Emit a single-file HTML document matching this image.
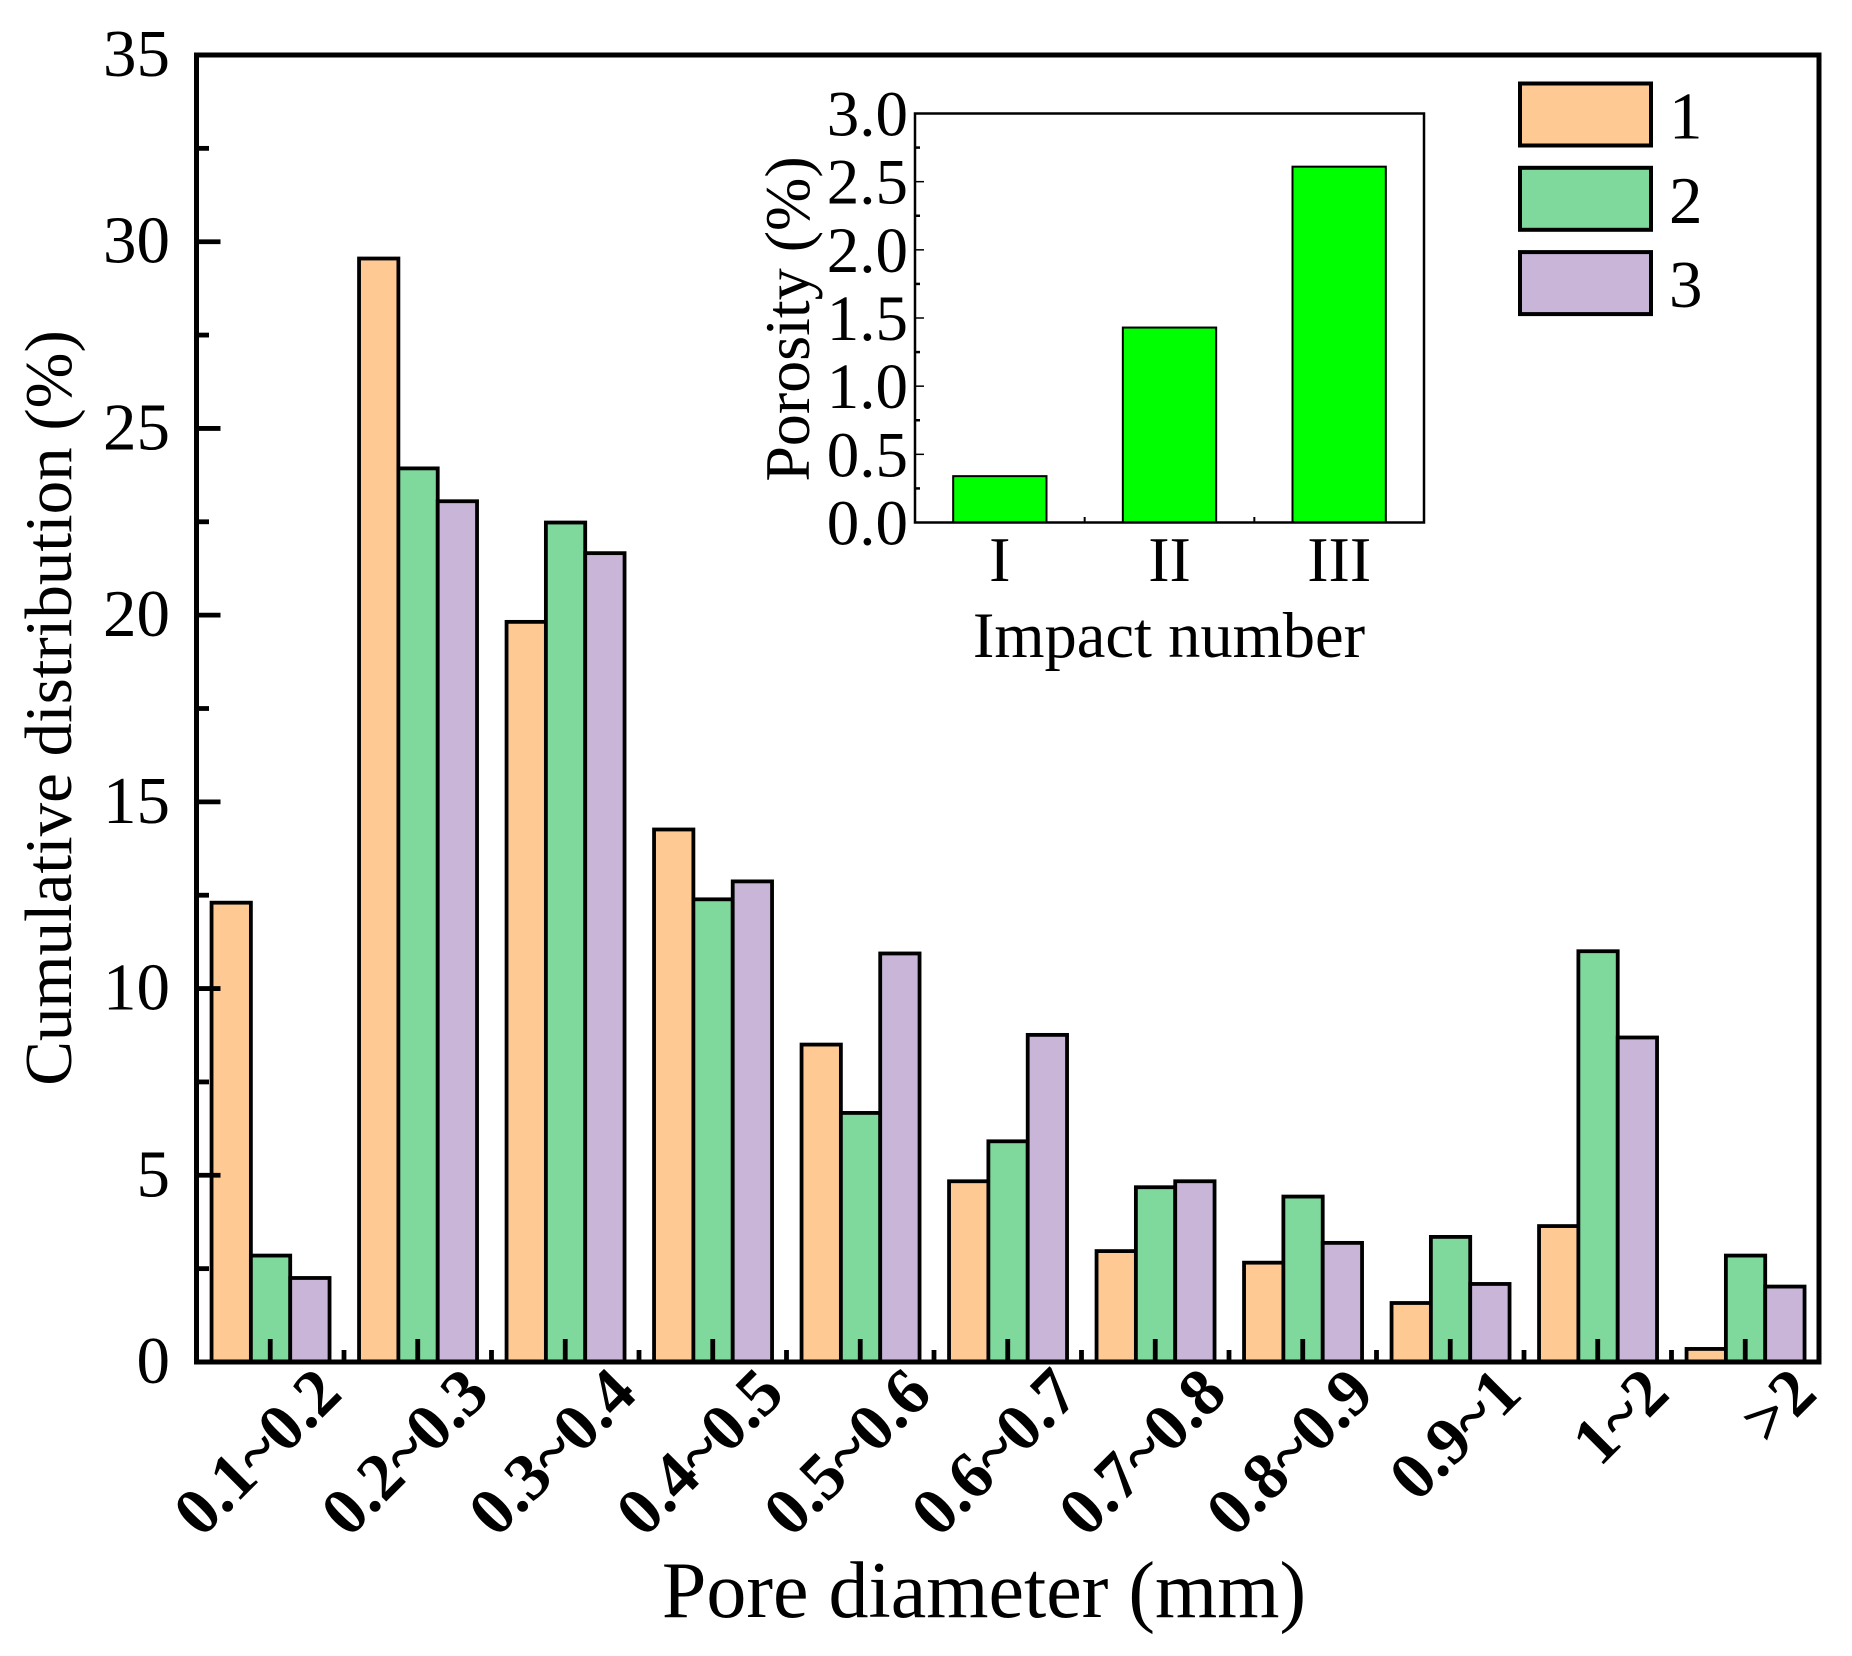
<!DOCTYPE html>
<html lang="en">
<head>
<meta charset="utf-8">
<title>Pore diameter distribution</title>
<style>
html,body{margin:0;padding:0;background:#fff;width:1852px;height:1656px;overflow:hidden}
svg{display:block}
text{font-family:"Liberation Serif","Times New Roman",serif;fill:#000}
</style>
</head>
<body>
<svg id="chart" xmlns="http://www.w3.org/2000/svg" width="1852" height="1656" viewBox="0 0 1852 1656">
  <rect x="0" y="0" width="1852" height="1656" fill="#fff"/>
  <g id="main-bars"></g>
  <rect x="196.5" y="55" width="1622.5" height="1307" fill="none" stroke="#000" stroke-width="5"/>
  <g id="main-ticks"></g>
  <text transform="translate(71,708) rotate(-90)" text-anchor="middle" font-size="67">Cumulative distribution (%)</text>
  <text x="984" y="1617" text-anchor="middle" font-size="80">Pore diameter (mm)</text>
  <g id="inset-bars"></g>
  <rect x="915" y="113.5" width="509" height="409" fill="none" stroke="#000" stroke-width="2.5"/>
  <g id="inset-ticks"></g>
  <text transform="translate(809,319) rotate(-90)" text-anchor="middle" font-size="64">Porosity (%)</text>
  <text x="1169" y="657" text-anchor="middle" font-size="64.5">Impact number</text>
  <g id="legend"></g>
</svg>
<script>
const categories = ["0.1~0.2","0.2~0.3","0.3~0.4","0.4~0.5","0.5~0.6","0.6~0.7","0.7~0.8","0.8~0.9","0.9~1","1~2",">2"];
const series1 = [12.3,29.55,19.82,14.26,8.5,4.84,2.97,2.66,1.58,3.64,0.35];
const series2 = [2.85,23.93,22.48,12.39,6.67,5.91,4.68,4.43,3.35,11.0,2.85];
const series3 = [2.25,23.05,21.66,12.87,10.94,8.76,4.84,3.19,2.09,8.69,2.02];
const seriesNames = ["1","2","3"];
const yTicks = [0,5,10,15,20,25,30,35];
const insetCategories = ["I","II","III"];
const insetValues = [0.34,1.43,2.61];
const insetYTicks = ["0.0","0.5","1.0","1.5","2.0","2.5","3.0"];

const NS = "http://www.w3.org/2000/svg";
const seriesColors = ["#FFC994","#7FD99C","#C9B5D8"];
const xMain = v => 196.5 + (v - 0.5) * (1622.5 / 11);
const yMain = v => 1362 - v * (1307 / 35);
const xInset = v => 915 + (v - 0.5) * (509 / 3);
const yInset = v => 522.5 - v * (409 / 3);

function make(parent, tag, props, content) {
  const el = document.createElementNS(NS, tag);
  for (const k in props) el.setAttribute(k, props[k]);
  if (content !== undefined) el.textContent = content;
  parent.appendChild(el);
  return el;
}

const mainBars = document.getElementById("main-bars");
const mainTicks = document.getElementById("main-ticks");
const insetBars = document.getElementById("inset-bars");
const insetTicks = document.getElementById("inset-ticks");
const legend = document.getElementById("legend");

const allSeries = [series1, series2, series3];
const barW = 0.8 / 3;
allSeries.forEach((vals, s) => {
  vals.forEach((v, i) => {
    const x0 = xMain(i + 1 - 0.4 + s * barW);
    const x1 = xMain(i + 1 - 0.4 + (s + 1) * barW);
    const r = make(mainBars, "rect", {x: x0 + 0.3, y: yMain(v), width: x1 - x0, height: yMain(0) - yMain(v), fill: seriesColors[s], stroke: "#000", "stroke-width": 3.8});
    
    
  });
});

yTicks.forEach((v, i) => {
  const t = make(mainTicks, "line", {x1: 196.5, x2: 220.5, y1: yMain(v), y2: yMain(v), stroke: "#000", "stroke-width": 4.8});
  
  
  const lab = make(mainTicks, "text", {x: 170, y: yMain(v) + 21, "text-anchor": "end", "font-size": 67}, String(v));
  
  
  if (i < yTicks.length - 1) {
    const m = (v + yTicks[i + 1]) / 2;
    const mt = make(mainTicks, "line", {x1: 196.5, x2: 209, y1: yMain(m), y2: yMain(m), stroke: "#000", "stroke-width": 4.8});
    
    
  }
});

categories.forEach((c, i) => {
  const x = xMain(i + 1);
  const t = make(mainTicks, "line", {x1: x, x2: x, y1: 1362, y2: 1339, stroke: "#000", "stroke-width": 4.8});
  
  
  if (i < categories.length - 1) {
    const xm = xMain(i + 1.5);
    const mt = make(mainTicks, "line", {x1: xm, x2: xm, y1: 1362, y2: 1350, stroke: "#000", "stroke-width": 4.8});
    
    
  }
  const lx = x + 74, ly = 1396;
  const lab = make(mainTicks, "text", {transform: "translate(" + lx + "," + ly + ") rotate(-45)", "text-anchor": "end", "font-size": 67, "font-weight": "bold"}, c);
  
  
});

insetValues.forEach((v, i) => {
  const cx = xInset(i + 1), w = 0.55 * (509 / 3);
  const r = make(insetBars, "rect", {x: cx - w / 2, y: yInset(v), width: w, height: yInset(0) - yInset(v), fill: "#00FF00", stroke: "#000", "stroke-width": 2});
  
  
  const lab = make(insetTicks, "text", {x: cx, y: 581, "text-anchor": "middle", "font-size": 64}, insetCategories[i]);
  
  
  if (i < insetValues.length - 1) {
    const xm = xInset(i + 1.5);
    const mt = make(insetTicks, "line", {x1: xm, x2: xm, y1: 522, y2: 517, stroke: "#000", "stroke-width": 2});
    
    
  }
});

insetYTicks.forEach((label, i) => {
  const v = parseFloat(label);
  const y = yInset(v);
  const t = make(insetTicks, "line", {x1: 915, x2: 924, y1: y, y2: y, stroke: "#000", "stroke-width": 1.5});
  
  
  const lab = make(insetTicks, "text", {x: 908, y: y + 22, "text-anchor": "end", "font-size": 65}, label);
  
  
  if (i < insetYTicks.length - 1) {
    const ym = yInset(v + 0.25);
    const mt = make(insetTicks, "line", {x1: 915, x2: 920, y1: ym, y2: ym, stroke: "#000", "stroke-width": 2.5});
    
    
  }
});

seriesNames.forEach((n, i) => {
  const y = 83.5 + i * 84.3;
  const r = make(legend, "rect", {x: 1528 - 8, y: y, width: 131, height: 62, fill: seriesColors[i], stroke: "#000", "stroke-width": 4});
  
  
  const lab = make(legend, "text", {x: 1669, y: y + 55, "font-size": 67}, n);
  
  
});
</script>
</body>
</html>
